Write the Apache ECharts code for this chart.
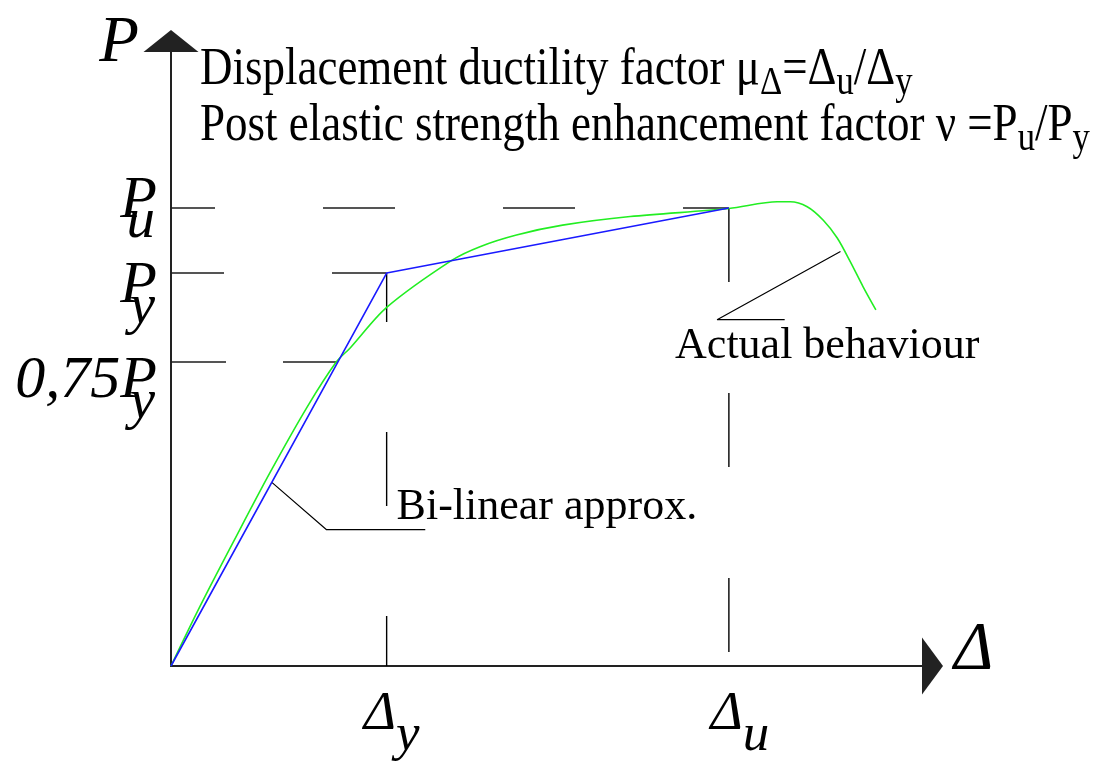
<!DOCTYPE html>
<html>
<head>
<meta charset="utf-8">
<script src="https://cdn.jsdelivr.net/npm/echarts@6/dist/echarts.min.js"></script>
<style>
html, body { margin: 0; padding: 0; background: #fff; }
#chart { width: 1095px; height: 761px; }
</style>
</head>
<body>
<div id="chart"></div>
<script>
// displacement (x) and load (y), arbitrary units
var dispY = 20.1;
var dispU = 52;
var loadY = 64;
var loadU = 74.6;
var load075 = 49.5;

var bilinear = [[0, 0], [dispY, loadY], [dispU, loadU]];
var actual = [
  [0, 0], [2.7, 9.7], [5.9, 20.5], [9.2, 31.4], [12.7, 42.2], [15.4, 49.5],
  [16.7, 51.8], [20.1, 58.4], [26.2, 66.1], [28.8, 68.3], [32.2, 70.2], [36.5, 71.8],
  [42.8, 73.2], [52, 74.5], [56.5, 75.6], [57.7, 75.6], [59.3, 74.8],
  [60.8, 72.6], [62.1, 69.7], [63.3, 65.9], [64.5, 61.8], [65.7, 58]
];
// leader lines of the two notes
var leaderBi = [[9.4, 29.9], [14.5, 22.2], [23.7, 22.2]];
var leaderAct = [[62.4, 67.5], [50.9, 56.4], [57.2, 56.4]];

// tick labels
var loadTicks = ['{p|P}\n{s|u}', '{p|P}\n{s|y}', '{p|0,75P}\n{s|y}'];
var dispTicks = ['{d|Δ}{s|y}', '{d|Δ}{s|u}'];
var noteBi = 'Bi-linear approx.';
var noteAct = 'Actual behaviour';

var serif = 'Liberation Serif';
var chart = echarts.init(document.getElementById('chart'));

function yTick(text, dy) {
  return {
    show: true, position: 'left', distance: 14, offset: [0, dy],
    formatter: text, align: 'right',
    rich: {
      p: { fontFamily: serif, fontStyle: 'italic', fontSize: 60, lineHeight: 21, color: '#000', align: 'right' },
      s: { fontFamily: serif, fontStyle: 'italic', fontSize: 57, lineHeight: 21, color: '#000', align: 'right', padding: [0, 2, 0, 0] }
    }
  };
}
function xTick(text, dx) {
  return {
    show: true, position: 'bottom', distance: 21, offset: [dx, 0],
    formatter: text,
    rich: {
      d: { fontFamily: serif, fontStyle: 'italic', fontSize: 55, lineHeight: 55, color: '#000' },
      s: { fontFamily: serif, fontStyle: 'italic', fontSize: 53, lineHeight: 55, color: '#000', padding: [44, 0, 0, 0] }
    }
  };
}
function note(text, off) {
  return {
    show: true, position: 'right', distance: 0, offset: off,
    formatter: text, color: '#000', fontFamily: serif, fontSize: 44
  };
}
function line(data, color, width, dash, dashOffset) {
  return {
    type: 'line', data: data, symbol: 'circle', symbolSize: 0, showSymbol: true,
    silent: true, animation: false,
    itemStyle: { color: 'transparent' },
    lineStyle: { color: color, width: width, type: dash || 'solid', dashOffset: dashOffset || 0 },
    emphasis: { disabled: true }
  };
}

var refPu = line([{ value: [0, loadU], label: yTick(loadTicks[0], 4) }, [dispU, loadU]], '#1e1e1e', 1.6, [72, 108], 28);
var refPy = line([{ value: [0, loadY], label: yTick(loadTicks[1], 24) }, [dispY, loadY]], '#1e1e1e', 1.6, [72, 108], 19);
var ref075 = line([{ value: [0, load075], label: yTick(loadTicks[2], 30) }, [load075 / loadY * dispY, load075]], '#1e1e1e', 1.6, [55, 57], 0);
var refDy = line([[dispY, loadY], { value: [dispY, 0], label: xTick(dispTicks[0], 5) }], '#000', 1.4, [74, 110], 25);
var refDu = line([[dispU, loadU], { value: [dispU, 0], label: xTick(dispTicks[1], 11) }], '#000', 1.4, [74, 111], 0);
var legBi = line([leaderBi[0], { value: leaderBi[1], label: note(noteBi, [70, -22]) }, leaderBi[2]], '#000', 1.2);
var legAct = line([leaderAct[0], { value: leaderAct[1], label: note(noteAct, [-42, 27]) }, leaderAct[2]], '#000', 1.2);

var greenLine = line(actual, '#22ee22', 1.6);
greenLine.smooth = 0.3;
greenLine.z = 3;
var blueLine = line(bilinear, '#1a1aff', 1.6);
blueLine.z = 4;

var axisCommon = {
  type: 'value', min: 0,
  axisTick: { show: false }, axisLabel: { show: false }, splitLine: { show: false }
};

var option = {
  backgroundColor: '#fff',
  animation: false,
  grid: { left: 171, top: 52, right: 173, bottom: 95 },
  xAxis: Object.assign({}, axisCommon, {
    max: 70,
    name: '{a|Δ}', nameLocation: 'end', nameGap: 32,
    nameTextStyle: {
      verticalAlign: 'middle',
      rich: { a: { color: '#000', fontFamily: serif, fontStyle: 'italic', fontSize: 67, padding: [0, 0, 31, 0] } }
    },
    axisLine: { show: true, onZero: false, symbol: ['none', 'triangle'], symbolSize: [57, 21], symbolOffset: [0, 10.5],
      lineStyle: { color: '#222', width: 2 } }
  }),
  yAxis: Object.assign({}, axisCommon, {
    max: 100,
    name: 'P', nameLocation: 'end', nameGap: 8,
    nameTextStyle: { color: '#000', fontFamily: serif, fontStyle: 'italic', fontSize: 65, align: 'right', verticalAlign: 'middle', padding: [0, 32, 0, 0] },
    axisLine: { show: true, onZero: false, symbol: ['none', 'triangle'], symbolSize: [55, 22], symbolOffset: [0, 11],
      lineStyle: { color: '#222', width: 2 } }
  }),
  graphic: [
    {
      type: 'text', x: 200, y: 70, scaleX: 0.865, silent: true,
      style: {
        text: 'Displacement ductility factor μ{s|Δ}=Δ{s|u}/Δ{s|y}',
        fontFamily: serif, fontSize: 52, fill: '#000', verticalAlign: 'middle', lineHeight: 52,
        rich: { s: { fontFamily: serif, fontSize: 40, fill: '#000', lineHeight: 52, padding: [26, 0, 0, 0] } }
      }
    },
    {
      type: 'text', x: 200, y: 126, scaleX: 0.865, silent: true,
      style: {
        text: 'Post elastic strength enhancement factor ν =P{s|u}/P{s|y}',
        fontFamily: serif, fontSize: 52, fill: '#000', verticalAlign: 'middle', lineHeight: 52,
        rich: { s: { fontFamily: serif, fontSize: 40, fill: '#000', lineHeight: 52, padding: [26, 0, 0, 0] } }
      }
    }
  ],
  series: [refPu, refPy, ref075, refDy, refDu, legBi, legAct, greenLine, blueLine]
};

chart.setOption(option);
window.addEventListener('resize', function () {
  chart.resize();
});
</script>
</body>
</html>
